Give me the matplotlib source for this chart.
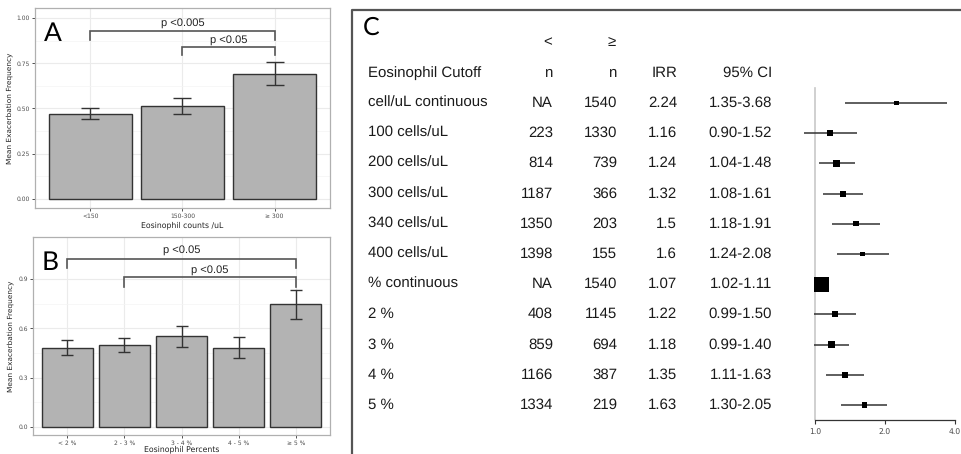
import numpy as np
import matplotlib
matplotlib.use("Agg")
import matplotlib.pyplot as plt
from matplotlib.transforms import blended_transform_factory
from matplotlib.lines import Line2D

plt.rcParams["text.hinting"] = "no_hinting"

# ---------------- data ----------------
a_cats = ["<150", "150-300", "\u2265 300"]
a_mean = [0.472, 0.511, 0.693]
a_lo = [0.440, 0.467, 0.630]
a_hi = [0.505, 0.557, 0.755]

b_cats = ["< 2 %", "2 - 3 %", "3 - 4 %", "4 - 5 %", "\u2265 5 %"]
b_mean = [0.482, 0.497, 0.552, 0.482, 0.746]
b_lo = [0.440, 0.456, 0.488, 0.420, 0.657]
b_hi = [0.531, 0.541, 0.613, 0.547, 0.835]

c_labels = ["cell/uL continuous", "100 cells/uL", "200 cells/uL", "300 cells/uL",
            "340 cells/uL", "400 cells/uL", "% continuous", "2 %", "3 %", "4 %", "5 %"]
c_n_lt = ["NA", "223", "814", "1187", "1350", "1398", "NA", "408", "859", "1166", "1334"]
c_n_ge = ["1540", "1330", "739", "366", "203", "155", "1540", "1145", "694", "387", "219"]
c_irr = [2.24, 1.16, 1.24, 1.32, 1.5, 1.6, 1.07, 1.22, 1.18, 1.35, 1.63]
c_irr_txt = ["2.24", "1.16", "1.24", "1.32", "1.5", "1.6", "1.07", "1.22", "1.18", "1.35", "1.63"]
c_lo = [1.35, 0.90, 1.04, 1.08, 1.18, 1.24, 1.02, 0.99, 0.99, 1.11, 1.30]
c_hi = [3.68, 1.52, 1.48, 1.61, 1.91, 2.08, 1.11, 1.50, 1.40, 1.63, 2.05]
c_ticks = [1.0, 2.0, 4.0]

W, H = 961, 454
fig = plt.figure(figsize=(W / 100, H / 100), dpi=100)
fig.patch.set_facecolor("white")


def px_axes(l, r, t, b):
    return fig.add_axes([l / W, 1 - b / H, (r - l) / W, (b - t) / H])


BAR = "#B3B3B3"
EDGE = "#333333"
GRIDC = "#EBEBEB"
TXT = "#4D4D4D"


def bar_panel(ax, cats, mean, lo, hi, ylim, yticks, yfmt, cap, xlabel, letter, xlabelpad):
    x = np.arange(1, len(cats) + 1)
    ax.set_axisbelow(True)
    ax.bar(x, mean, width=0.9, color=BAR, edgecolor=EDGE, linewidth=1.0, zorder=2)
    mean = np.array(mean)
    err = [mean - np.array(lo), np.array(hi) - mean]
    ax.errorbar(x, mean, yerr=err, fmt="none", ecolor=EDGE, elinewidth=1.0,
                capsize=cap, capthick=1.0, zorder=3)
    ax.set_xlim(0.4, len(cats) + 0.6)
    ax.set_ylim(*ylim)
    ax.set_xticks(x)
    ax.set_xticklabels(cats, fontsize=4.3, color=TXT)
    ax.set_yticks(yticks)
    ax.set_yticklabels([yfmt.format(v) for v in yticks], fontsize=4.3, color=TXT)
    minor = [(yticks[i] + yticks[i + 1]) / 2 for i in range(len(yticks) - 1)]
    ax.set_yticks(minor, minor=True)
    ax.tick_params(axis="both", which="major", length=2, width=0.6, color="#333333", pad=1.5)
    ax.tick_params(axis="y", which="minor", length=0)
    ax.grid(True, which="major", color=GRIDC, linewidth=0.8)
    ax.grid(True, which="minor", axis="y", color="#F4F4F4", linewidth=0.5)
    for s in ax.spines.values():
        s.set_color("#B0B0B0")
        s.set_linewidth(0.9)
    ax.set_ylabel("Mean Exacerbation Frequency", fontsize=5.3, color="#222222", labelpad=3)
    ax.set_xlabel(xlabel, fontsize=5.6, color="#222222", labelpad=xlabelpad)
    ax.text(0.03, 0.93, letter, transform=ax.transAxes, fontsize=19, family="Lato",
            va="top", ha="left", color="black")
    return x


def bracket(ax, x1, x2, ytop, ybot1, ybot2, label, ytext):
    ax.plot([x1, x1, x2, x2], [ybot1, ytop, ytop, ybot2], color="#555555", lw=1.2,
            zorder=4, solid_joinstyle="miter")
    ax.text((x1 + x2) / 2, ytext, label, ha="center", va="center", fontsize=8,
            family="Liberation Sans", color="#222222")


# ---- Panel A
axA = px_axes(35, 330, 8, 208)
xa = bar_panel(axA, a_cats, a_mean, a_lo, a_hi, (-0.05, 1.055),
               [0.0, 0.25, 0.5, 0.75, 1.0], "{:.2f}", 6.8, "Eosinophil counts /uL", "A", 2)
bracket(axA, xa[0], xa[2], 0.928, 0.878, 0.88, "p <0.005", 0.972)
bracket(axA, xa[1], xa[2], 0.84, 0.795, 0.795, "p <0.05", 0.878)

# ---- Panel B
axB = px_axes(33, 330, 237, 435)
xb = bar_panel(axB, b_cats, b_mean, b_lo, b_hi, (-0.049, 1.156),
               [0.0, 0.3, 0.6, 0.9], "{:.1f}", 4.3, "Eosinophil Percents", "B", 0.0)
bracket(axB, xb[0], xb[4], 1.024, 0.967, 0.967, "p <0.05", 1.08)
bracket(axB, xb[1], xb[4], 0.91, 0.852, 0.852, "p <0.05", 0.953)

# ---- Panel C box
fig.add_artist(Line2D([352 / W, 352 / W, 1.0], [0.0, 1 - 10 / H, 1 - 10 / H],
                      transform=fig.transFigure, color="#555555", lw=1.6))
fig.text(363 / W, 1 - 16 / H, "C", fontsize=18, family="Lato", va="top", ha="left")

# ---- Forest plot
axF = px_axes(790, 958, 60, 420)
axF.set_xscale("log", base=2)
axF.set_xlim(2 ** ((790 - 815) / 70), 2 ** ((958 - 815) / 70))
n = len(c_labels)
rows = np.arange(n)
axF.set_ylim(10.497, -1.424)

irr = np.array(c_irr)
lo = np.array(c_lo)
hi = np.array(c_hi)
info = np.sqrt(1 / (hi - lo))
info = info / info.max()
sizes_px = np.maximum(info * 14.7, 4.3)

axF.axvline(1.0, ymin=0, ymax=(10.497 + 0.5) / (10.497 + 1.424), color="#C8C8C8", lw=1.2, zorder=1)
axF.hlines(rows, lo, hi, color="#333333", lw=1.1, zorder=2)
axF.scatter(irr, rows, marker="s", s=(sizes_px * 0.72) ** 2, color="black", zorder=3, linewidths=0)

for s in ["left", "top", "right"]:
    axF.spines[s].set_visible(False)
axF.spines["bottom"].set_bounds(1.0, 4.0)
axF.spines["bottom"].set_color("#333333")
axF.spines["bottom"].set_linewidth(0.9)
axF.set_yticks([])
axF.set_xticks(c_ticks)
axF.set_xticklabels(["{:.1f}".format(t) for t in c_ticks], fontsize=5.5, color=TXT)
axF.xaxis.set_minor_locator(matplotlib.ticker.NullLocator())
axF.tick_params(axis="x", length=3, width=0.8, color="#333333", pad=3)

# ---- Table text
tr = blended_transform_factory(fig.transFigure, axF.transData)
fs = 10.8
fam = "Liberation Sans"
col = "#1A1A1A"
xl, x1, x2, x3, x4 = 368 / W, 553 / W, 617 / W, 677 / W, 772 / W
kw = dict(transform=tr, fontsize=fs, family=fam, color=col, va="center")
fig.text(548 / W, -2.0, "<", ha="center", **kw)
fig.text(612 / W, -2.0, "\u2265", ha="center", **kw)
fig.text(xl, -1.0, "Eosinophil Cutoff", ha="left", **kw)
fig.text(x1, -1.0, "n", ha="right", **kw)
fig.text(x2, -1.0, "n", ha="right", **kw)
fig.text(x3, -1.0, "IRR", ha="right", **kw)
fig.text(x4, -1.0, "95% CI", ha="right", **kw)
for i in range(n):
    fig.text(xl, rows[i], c_labels[i], ha="left", **kw)
    fig.text(x1, rows[i], c_n_lt[i], ha="right", **kw)
    fig.text(x2, rows[i], c_n_ge[i], ha="right", **kw)
    fig.text(x3, rows[i], c_irr_txt[i], ha="right", **kw)
    fig.text(x4, rows[i], "{:.2f}-{:.2f}".format(c_lo[i], c_hi[i]), ha="right", **kw)

fig.savefig("out.png", dpi=100, facecolor="white")
